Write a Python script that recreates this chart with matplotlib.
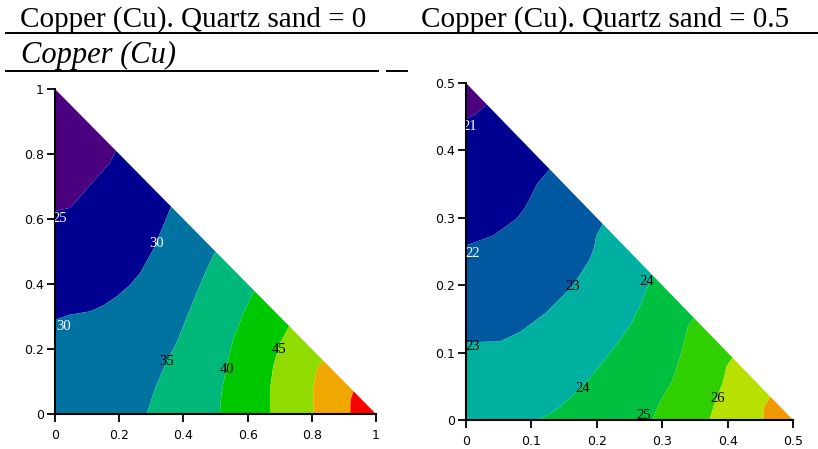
import numpy as np
import matplotlib.pyplot as plt
import matplotlib.tri as mtri

# ---- data: points read along each isoline of the two contour plots ----

# Quartz sand = 0
cu0_levels = [25, 30, 35, 40, 45, 50, 55]
cu0_25 = [(0, 0.623), (0.047, 0.633), (0.085, 0.642), (0.109, 0.653), (0.14, 0.678), (0.156, 0.71),
          (0.171, 0.771), (0.19, 0.81)]
cu0_30 = [(0, 0.289), (0.047, 0.305), (0.109, 0.315), (0.15, 0.333), (0.192, 0.361), (0.232, 0.395),
          (0.265, 0.433), (0.306, 0.505), (0.343, 0.592), (0.362, 0.638)]
cu0_35 = [(0.285, 0), (0.291, 0.012), (0.317, 0.089), (0.348, 0.161), (0.379, 0.218),
          (0.42, 0.32), (0.472, 0.443), (0.5, 0.5)]
cu0_40 = [(0.514, 0), (0.519, 0.064), (0.535, 0.146), (0.555, 0.228), (0.587, 0.31), (0.621, 0.379)]
cu0_45 = [(0.67, 0), (0.67, 0.074), (0.68, 0.146), (0.701, 0.218), (0.73, 0.27)]
cu0_50 = [(0.805, 0), (0.805, 0.074), (0.815, 0.135), (0.834, 0.166)]
cu0_55 = [(0.92, 0), (0.921, 0.043), (0.93, 0.07)]
cu0_corners = [(0, 0, 33), (1, 0, 58), (0, 1, 22)]
cu0_labels = [("25", 0.015, 0.602, "white"), ("30", 0.315, 0.525, "white"),
              ("30", 0.026, 0.269, "white"), ("35", 0.348, 0.161, "black"),
              ("40", 0.535, 0.138, "black"), ("45", 0.698, 0.199, "black")]
cu0_colors = ["#4B0080", "#000090", "#0073A0", "#00B87A", "#00C800", "#90DC00", "#F0A800", "#FF0000"]
cu0_ticks = [0, 0.2, 0.4, 0.6, 0.8, 1]
cu0_ticklabels = ["0", "0.2", "0.4", "0.6", "0.8", "1"]

# Quartz sand = 0.5
cu5_levels = [21, 22, 23, 24, 25, 26, 27]
cu5_21 = [(0, 0.445), (0.015, 0.452), (0.033, 0.467)]
cu5_22 = [(0, 0.257), (0.042, 0.272), (0.062, 0.282), (0.078, 0.297), (0.09, 0.312), (0.098, 0.326),
          (0.11, 0.35), (0.129, 0.371)]
cu5_23 = [(0, 0.114), (0.052, 0.115), (0.083, 0.129), (0.123, 0.158), (0.164, 0.198),
          (0.19, 0.237), (0.197, 0.255), (0.2, 0.272), (0.21, 0.29)]
cu5_24 = [(0.113, 0), (0.14, 0.015), (0.177, 0.047), (0.205, 0.079), (0.23, 0.11),
          (0.251, 0.138), (0.265, 0.165), (0.276, 0.19), (0.286, 0.214)]
cu5_25 = [(0.286, 0), (0.297, 0.025), (0.317, 0.059), (0.33, 0.099), (0.34, 0.138), (0.349, 0.151)]
cu5_26 = [(0.373, 0), (0.381, 0.025), (0.393, 0.054), (0.399, 0.079), (0.408, 0.092)]
cu5_27 = [(0.455, 0), (0.457, 0.02), (0.466, 0.034)]
cu5_corners = [(0, 0, 23.5), (0.5, 0, 27.5), (0, 0.5, 20.7)]
cu5_labels = [("21", 0.006, 0.435, "white"), ("22", 0.01, 0.247, "white"),
              ("23", 0.163, 0.198, "black"), ("23", 0.01, 0.109, "black"),
              ("24", 0.276, 0.205, "black"), ("24", 0.178, 0.047, "black"),
              ("25", 0.272, 0.007, "black"), ("26", 0.385, 0.032, "black")]
cu5_colors = ["#4B0080", "#000090", "#0058A0", "#00B0A0", "#00C040", "#30D000", "#B8E000", "#F09800"]
cu5_ticks = [0, 0.1, 0.2, 0.3, 0.4, 0.5]
cu5_ticklabels = ["0", "0.1", "0.2", "0.3", "0.4", "0.5"]


# contour plot on the triangle x + y <= top
def tri_plot(ax, lines, levels, corners, colors, labels, ticks, ticklabels, top):
    xs, ys, zs = [], [], []
    for lev, pts in zip(levels, lines):
        for px, py in pts:
            xs.append(px)
            ys.append(py)
            zs.append(lev)
    for px, py, pz in corners:
        xs.append(px)
        ys.append(py)
        zs.append(pz)
    tri = mtri.Triangulation(xs, ys)
    bounds = [min(zs) - 1] + [l - 0.01 for l in levels] + [max(zs) + 1]
    ax.tricontourf(tri, zs, levels=bounds, colors=colors, antialiased=True)

    for txt, tx, ty, c in labels:
        ax.text(tx, ty, txt, color=c, fontsize=10.5, family="Liberation Serif",
                ha="center", va="center", clip_on=True)

    ax.set_xlim(0, top)
    ax.set_ylim(0, top)
    ax.spines["top"].set_visible(False)
    ax.spines["right"].set_visible(False)
    ax.spines["left"].set_linewidth(1.5)
    ax.spines["bottom"].set_linewidth(1.5)
    ax.set_xticks(ticks, ticklabels)
    ax.set_yticks(ticks, ticklabels)
    ax.tick_params(axis="x", direction="out", length=6, width=1.3, pad=5, labelsize=9)
    ax.tick_params(axis="y", direction="out", length=6, width=1.3, pad=2, labelsize=9)


fig = plt.figure(figsize=(8.18, 4.49), dpi=100)

ax1 = fig.add_axes([55 / 818, 35 / 449, 321 / 818, 325 / 449])
tri_plot(ax1, [cu0_25, cu0_30, cu0_35, cu0_40, cu0_45, cu0_50, cu0_55], cu0_levels,
         cu0_corners, cu0_colors, cu0_labels, cu0_ticks, cu0_ticklabels, 1)

ax2 = fig.add_axes([466 / 818, 29 / 449, 327 / 818, 337 / 449])
tri_plot(ax2, [cu5_21, cu5_22, cu5_23, cu5_24, cu5_25, cu5_26, cu5_27], cu5_levels,
         cu5_corners, cu5_colors, cu5_labels, cu5_ticks, cu5_ticklabels, 0.5)

# header texts and rules
fig.text(20 / 818, 1 - 27 / 449, "Copper (Cu). Quartz sand = 0", family="Liberation Serif",
         fontsize=21, va="baseline")
fig.text(421 / 818, 1 - 27 / 449, "Copper (Cu). Quartz sand = 0.5", family="Liberation Serif",
         fontsize=21, va="baseline")
fig.text(21 / 818, 1 - 63 / 449, "Copper (Cu)", family="Liberation Serif", style="italic",
         fontsize=22, va="baseline")
fig.add_artist(plt.Line2D([6 / 818, 1], [1 - 33 / 449] * 2, color="black", lw=1.4))
fig.add_artist(plt.Line2D([6 / 818, 378 / 818], [1 - 71 / 449] * 2, color="black", lw=1.4))
fig.add_artist(plt.Line2D([387 / 818, 407 / 818], [1 - 71 / 449] * 2, color="black", lw=1.4))

fig.savefig("out.png", dpi=100)
